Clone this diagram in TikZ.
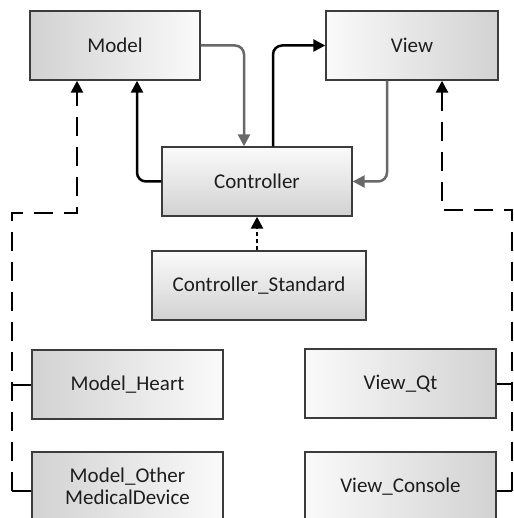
\documentclass[tikz,border=0pt]{standalone}
\usepackage{fontspec}
\setmainfont{Carlito}
\usetikzlibrary{arrows.meta}
\definecolor{boxline}{HTML}{3C3C3C}
\definecolor{shadedark}{HTML}{D2D2D2}
\definecolor{shadelight}{HTML}{FAFAFA}
\definecolor{linkgray}{HTML}{686868}
\definecolor{txt}{HTML}{1E1E1E}
\tikzset{
  box/.style={draw=boxline, line width=1.4pt, inner sep=0pt, minimum height=69pt,
    font=\fontsize{21}{25}\selectfont, text=txt, align=center},
  darkleft/.style={box, left color=shadedark, right color=shadelight},
  darkright/.style={box, left color=shadelight, right color=shadedark},
  darkbottom/.style={box, top color=shadelight, bottom color=shadedark},
  tip/.style={-{Triangle[length=12pt,width=12pt]}},
  flowblack/.style={tip, line width=2.5pt, black, rounded corners=9pt},
  flowgray/.style={tip, line width=2.5pt, linkgray, rounded corners=9pt},
  realize/.style={tip, line width=2.6pt, black, dash pattern=on 19pt off 11pt},
  usesdot/.style={tip, line width=2.5pt, black, dash pattern=on 4pt off 3pt},
  stub/.style={line width=2pt, black}
}
\begin{document}
\begin{tikzpicture}[x=1pt, y=-1pt]
  \useasboundingbox (0,0) rectangle (513,518);
  \clip (0,0) rectangle (513,518);

  % boxes
  \node[darkleft,   minimum width=170pt] (model) at (115,45.5)   {Model};
  \node[darkright,  minimum width=172pt] (view)  at (412,45.5)   {View};
  \node[darkbottom, minimum width=190pt] (ctrl)  at (257,181.5)  {Controller};
  \node[darkbottom, minimum width=214pt] (cstd)  at (259,285.5)  {Controller\_Standard};
  \node[darkleft,   minimum width=191pt] (mheart) at (127.5,384.5) {Model\_Heart};
  \node[darkright,  minimum width=191pt] (vqt)    at (400.5,383.5) {View\_Qt};
  \node[darkleft,   minimum width=191pt] (mother) at (127.5,486.5) {Model\_Other\\[-3pt]MedicalDevice};
  \node[darkright,  minimum width=191pt] (vcons)  at (400.5,486.5) {View\_Console};

  % MVC links
  \draw[flowgray]  (model.east) -| ([xshift=-13pt]ctrl.north);
  \draw[flowblack] (ctrl.west) -| ([xshift=22pt]model.south);
  \draw[flowblack] ([xshift=16pt]ctrl.north) |- (view.west);
  \draw[flowgray]  ([xshift=-25pt]view.south) |- (ctrl.east);
  \draw[usesdot]   (ctrl.south |- cstd.north) -- (ctrl.south);

  % model implementations
  \coordinate (lbus) at (12,213);
  \coordinate (lend) at (12,491);
  \draw[realize] (lend) -- (lbus) -| ([xshift=-38pt]model.south);
  \draw[stub] (mheart.west) -- (mheart.west -| lbus);
  \draw[stub] (mother.west |- lend) -- (lend);

  % view implementations
  \coordinate (rbus) at (512,210);
  \coordinate (rend) at (512,491);
  \draw[realize] (rend) -- (rbus) -| ([xshift=30pt]view.south);
  \draw[stub] (vqt.east) -- (vqt.east -| rbus);
  \draw[stub] (vcons.east |- rend) -- (rend);
\end{tikzpicture}
\end{document}
